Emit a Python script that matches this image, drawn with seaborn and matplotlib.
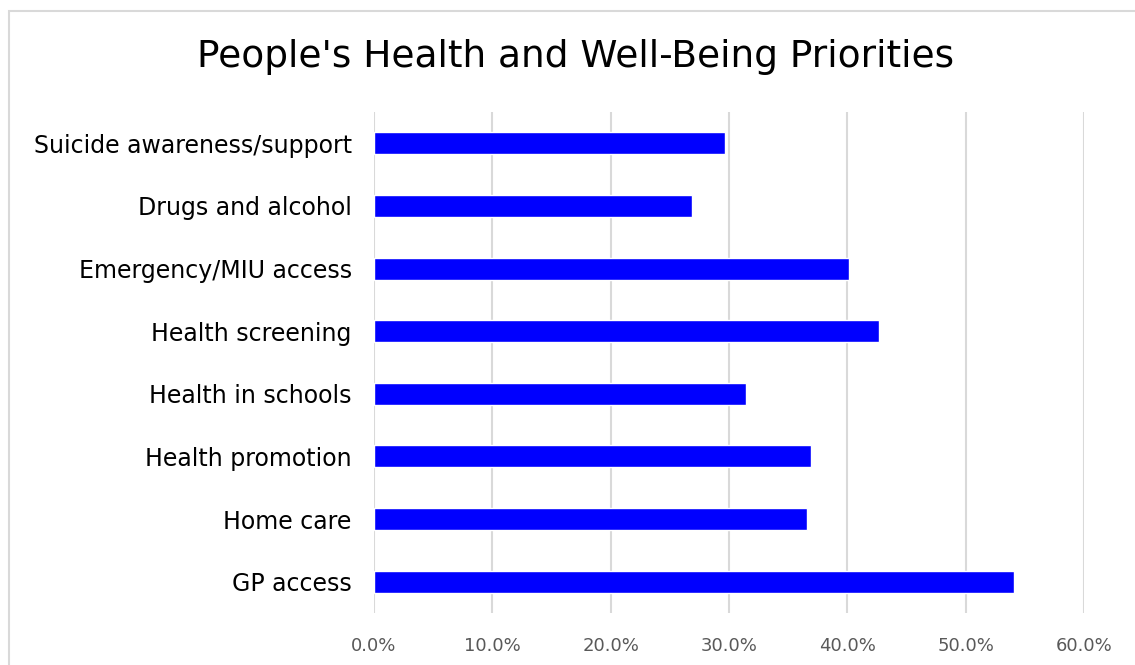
import matplotlib
matplotlib.use("Agg")
import matplotlib.pyplot as plt
import seaborn as sns
import pandas as pd
from matplotlib.ticker import PercentFormatter
from matplotlib.patches import Rectangle

categories = ["Suicide awareness/support", "Drugs and alcohol", "Emergency/MIU access",
              "Health screening", "Health in schools", "Health promotion",
              "Home care", "GP access"]
values = [29.7, 26.9, 40.1, 42.7, 31.4, 36.9, 36.6, 54.1]
xticks = [0, 10, 20, 30, 40, 50, 60]

df = pd.DataFrame({"category": categories, "value": values})

sns.set_theme(style="white")
plt.rcParams['font.family'] = ['DejaVu Sans']

fig = plt.figure(figsize=(11.35, 6.65), dpi=100)
ax = fig.add_axes([374/1135, 1 - 613/665, (1084 - 374)/1135, (613 - 112)/665])

sns.barplot(data=df, x="value", y="category", order=categories, orient="h",
            color="#0000FF", saturation=1, width=0.35, ax=ax, zorder=3)

ax.set_xlim(0, 60)
ax.set_xticks(xticks)
ax.xaxis.set_major_formatter(PercentFormatter(decimals=1))
ax.grid(axis="x", color="#D9D9D9", linewidth=1.5, zorder=0)
ax.set_axisbelow(True)
for s in ax.spines.values():
    s.set_visible(False)
ax.set_xlabel("")
ax.set_ylabel("")
ax.tick_params(axis="x", colors="#595959", labelsize=13, pad=17, length=0)
ax.tick_params(axis="y", colors="black", labelsize=17, pad=16, length=0)

fig.text(576/1135, 1 - 57/665, "People's Health and Well-Being Priorities",
         ha="center", va="center", fontsize=27, color="black")

fig.patches.append(Rectangle((9/1135, -0.1), 1.2, 1 - 11/665 + 0.1,
                             transform=fig.transFigure, fill=False,
                             edgecolor="#D9D9D9", linewidth=1.5))

fig.savefig("out.png", dpi=100)
